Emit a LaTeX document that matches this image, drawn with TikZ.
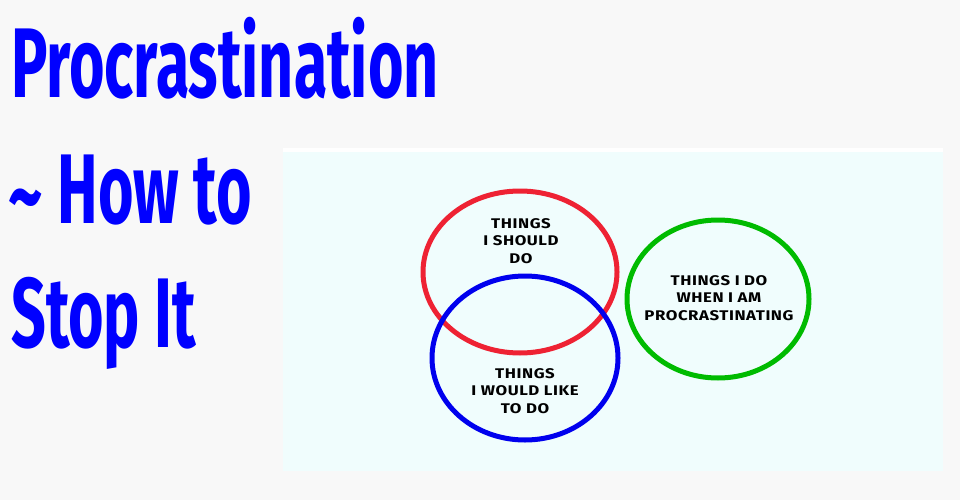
\documentclass[tikz,border=0pt]{standalone}
\usepackage{fontspec}
\usetikzlibrary{shapes.geometric}
\newfontfamily\titlefont[FakeStretch=0.615]{Fira Sans}
\newfontfamily\handfont[FakeStretch=1.2,LetterSpace=4]{Fira Sans}
\definecolor{pagebg}{HTML}{F8F8F8}
\definecolor{panelbg}{HTML}{F0FDFD}
\definecolor{vred}{HTML}{EE2233}
\definecolor{vblue}{HTML}{0000EE}
\definecolor{vgreen}{HTML}{00BB00}
\definecolor{titleblue}{HTML}{0000FF}
\tikzset{
  titletext/.style={anchor=base west, inner sep=0pt, text=titleblue, font=\titlefont\bfseries\fontsize{99}{99}\selectfont},
  ring/.style={ellipse, draw=#1, line width=5pt, inner sep=0pt},
  label/.style={align=center, inner sep=0pt, font=\handfont\bfseries\fontsize{14}{17.5}\selectfont, text=black}
}
\begin{document}
\begin{tikzpicture}[x=1pt,y=-1pt]
\fill[pagebg] (0,0) rectangle (960,500);
\useasboundingbox (0,0) rectangle (960,500);
\fill[white] (283,148) rectangle (943,152);
\fill[panelbg] (283,152) rectangle (943,471);
\node[titletext] (t1) at (11,98) {Procrastination};
\node[titletext] (t2) at (8,223) {\raisebox{-6pt}{\scalebox{1.1}[1]{\char`\~}}\hspace{15pt}How to};
\node[titletext] (t3) at (11,347) {Stop It};
\node[ring=vgreen, minimum width=182pt, minimum height=158pt] (green) at (718,299) {};
\node[ring=vred, minimum width=194pt, minimum height=162pt] (red) at (520,272) {};
\node[ring=vblue, minimum width=186pt, minimum height=164pt] (blue) at (525,358) {};
\node[label] (lred) at (521,241) {THINGS\\I SHOULD\\DO};
\node[label] (lblue) at (525,391) {THINGS\\I WOULD LIKE\\TO DO};
\node[label] (lgreen) at (719,298) {THINGS I DO\\WHEN I AM\\PROCRASTINATING};
\end{tikzpicture}
\end{document}
